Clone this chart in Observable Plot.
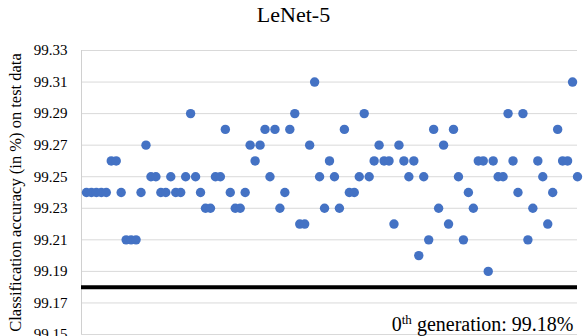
<!DOCTYPE html>
<html><head><meta charset="utf-8">
<script src="https://cdn.jsdelivr.net/npm/d3@7"></script>
<script src="https://cdn.jsdelivr.net/npm/@observablehq/plot@0.6"></script>
<style>
html,body{margin:0;padding:0;background:#fff;overflow:hidden;}
#wrap{position:relative;width:587px;height:336px;overflow:hidden;}
#title{position:absolute;top:1px;left:0;width:587px;text-align:center;font-size:22px;font-family:"Liberation Serif","Times New Roman",serif;color:#000;line-height:28px;z-index:2;}
#chart{position:absolute;top:0;left:0;}
</style></head><body>
<div id="wrap"><div id="title"></div><div id="chart"></div></div>
<script>
const title = "LeNet-5";
const yLabel = "Classification accuracy (in %) on test data";
const yTicks = [99.15, 99.17, 99.19, 99.21, 99.23, 99.25, 99.27, 99.29, 99.31, 99.33];
// accuracy of generations 1..100
const accuracy = [
  99.24, 99.24, 99.24, 99.24, 99.24, 99.26, 99.26, 99.24, 99.21, 99.21,
  99.21, 99.24, 99.27, 99.25, 99.25, 99.24, 99.24, 99.25, 99.24, 99.24,
  99.25, 99.29, 99.25, 99.24, 99.23, 99.23, 99.25, 99.25, 99.28, 99.24,
  99.23, 99.23, 99.24, 99.27, 99.26, 99.27, 99.28, 99.25, 99.28, 99.23,
  99.24, 99.28, 99.29, 99.22, 99.22, 99.27, 99.31, 99.25, 99.23, 99.26,
  99.25, 99.23, 99.28, 99.24, 99.24, 99.25, 99.29, 99.25, 99.26, 99.27,
  99.26, 99.26, 99.22, 99.27, 99.26, 99.25, 99.26, 99.20, 99.25, 99.21,
  99.28, 99.23, 99.27, 99.22, 99.28, 99.25, 99.21, 99.24, 99.23, 99.26,
  99.26, 99.19, 99.26, 99.25, 99.25, 99.29, 99.26, 99.24, 99.29, 99.21,
  99.23, 99.26, 99.25, 99.22, 99.24, 99.28, 99.26, 99.26, 99.31, 99.25
];
const baseline = 99.18;
const baseOrdinal = "0";
const baseSuffix = "th";
const baseRest = " generation: 99.18%";
const baseLabel = baseOrdinal + baseSuffix + baseRest;

document.getElementById("title").textContent = title;
const data = accuracy.map((v, i) => ({gen: i + 1, acc: v}));
const fmt = d => d.toFixed(2);

const plot = Plot.plot({
  width: 587, height: 336,
  marginLeft: 81, marginRight: 10, marginTop: 50, marginBottom: 2,
  style: {fontFamily: '"Liberation Serif","Times New Roman",serif', fontSize: "15px", color: "#000", background: "transparent"},
  x: {domain: [0, 100], axis: null},
  y: {domain: [99.15, 99.33], axis: null},
  marks: [
    Plot.gridY(yTicks, {stroke: "#d9d9d9", strokeOpacity: 1, strokeWidth: 1}),
    Plot.ruleX([0], {stroke: "#d0d0d0", strokeWidth: 1}),
    Plot.axisY(yTicks, {tickSize: 0, tickPadding: 14, tickFormat: fmt, label: yLabel, labelArrow: "none", labelAnchor: "center", labelOffset: 72, fontSize: 15}),
    Plot.ruleY([baseline], {stroke: "#000", strokeWidth: 4}),
    Plot.dot(data, {x: "gen", y: "acc", r: 4.7, fill: "#4472C4", stroke: null}),
    Plot.text([baseLabel], {frameAnchor: "bottom-right", textAnchor: "end", lineAnchor: "bottom", dx: -4, dy: -4, fontSize: 20, fill: "#000"})
  ]
});
document.getElementById("chart").appendChild(plot);

d3.select(plot).selectAll("text").filter(function() { return this.textContent === yLabel; })
  .attr("font-size", "16.5px");

d3.select(plot).selectAll("text").filter(function() { return this.textContent === baseLabel; })
  .each(function() {
    const t = d3.select(this);
    t.text(null);
    t.append("tspan").text(baseOrdinal);
    t.append("tspan").attr("dy", "-7px").attr("font-size", "13px").text(baseSuffix);
    t.append("tspan").attr("dy", "7px").text(baseRest);
  });
</script>
</body></html>
